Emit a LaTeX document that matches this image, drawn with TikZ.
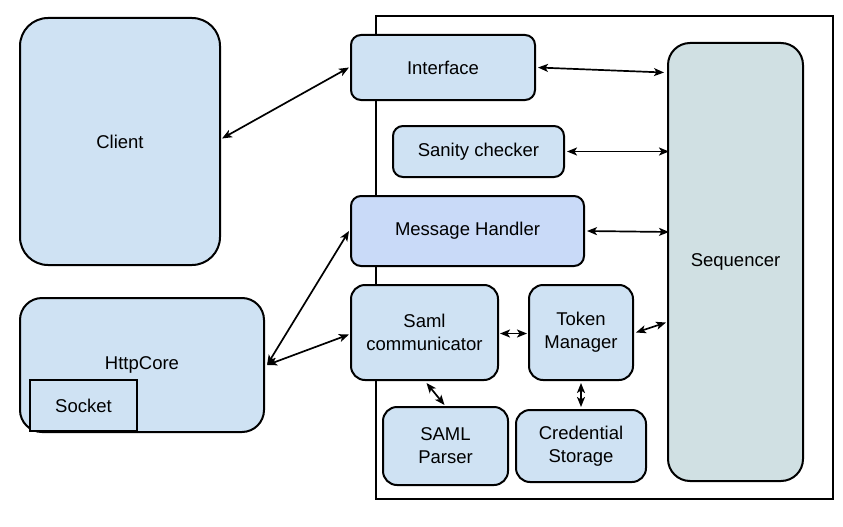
\documentclass[tikz,border=0pt]{standalone}
\usepackage{fontspec}
\setmainfont{Liberation Sans}
\usetikzlibrary{arrows.meta,calc}
\definecolor{lb}{HTML}{CFE2F3}
\definecolor{mb}{HTML}{C9DAF8}
\definecolor{sq}{HTML}{D0E0E3}
\begin{document}
\begin{tikzpicture}[x=1pt,y=-1pt,
  box/.style={draw=black,line width=2pt,fill=lb,rounded corners=#1,inner sep=0pt,align=center,font=\fontsize{18.5}{23}\selectfont},
  box/.default=10pt,
  conn/.style={line width=1.7pt,{Stealth[length=10pt,width=8pt,inset=2.5pt]}-{Stealth[length=10pt,width=8pt,inset=2.5pt]}}]
\useasboundingbox (0,0) rectangle (843,527);
\fill[white] (0,0) rectangle (843,527);
\draw[line width=2pt] (376,16) rectangle (833,499);
\node[box=28pt,minimum width=200pt,minimum height=247pt] (client) at (120,141.5) {Client};
\node[box=22pt,minimum width=244pt,minimum height=134pt] (http) at (142,365) {HttpCore};
\node[draw=black,line width=2pt,fill=lb,inner sep=0pt,minimum width=107pt,minimum height=51pt,font=\fontsize{18.5}{23}\selectfont] (sock) at (83.5,405.5) {Socket};
\node[box,minimum width=184pt,minimum height=65pt] (intf) at (443,67.5) {Interface};
\node[box,minimum width=171pt,minimum height=51pt] (san) at (478.5,151.5) {Sanity checker};
\node[box,fill=mb,minimum width=233pt,minimum height=70pt] (mh) at (467.5,231) {Message Handler};
\node[box=14pt,minimum width=147pt,minimum height=95pt] (saml) at (424.5,332.5) {Saml\\communicator};
\node[box=14pt,minimum width=104pt,minimum height=95pt] (tok) at (581,332.5) {Token\\Manager};
\node[box=14pt,minimum width=125pt,minimum height=78pt] (par) at (445.5,446) {SAML\\Parser};
\node[box=14pt,minimum width=130pt,minimum height=72pt] (cred) at (581,446) {Credential\\Storage};
\node[box=22pt,fill=sq,minimum width=135pt,minimum height=438pt] (seq) at (735.5,262) {Sequencer};
\draw[conn] ($(client.east)+(1,-3)$) -- ($(intf.west)+(-1,0)$);
\draw[conn] ($(intf.east)+(2,0)$) -- ($(seq.west |- intf.east)+(-3,5)$);
\draw[conn] ($(san.east)+(2,0)$) -- ($(seq.west |- san.east)+(2,0)$);
\draw[conn] ($(mh.east)+(2,0)$) -- ($(seq.west |- mh.east)+(2,1)$);
\draw[conn] ($(http.east)+(2,0)$) -- ($(mh.west)+(-1,0)$);
\draw[conn] ($(http.east)+(2,0)$) -- ($(saml.west)+(-1,2)$);
\draw[conn] ($(saml.east)+(1,1)$) -- ($(tok.west)+(-1,1)$);
\draw[conn] ($(tok.east)+(2,0)$) -- ($(seq.west |- tok.east)+(-1,-10)$);
\draw[conn] ($(saml.south)+(2,2)$) -- ($(par.north)+(-1,-1)$);
\draw[conn] ($(tok.south)+(0,2)$) -- ($(cred.north)+(0,-2)$);
\end{tikzpicture}
\end{document}
